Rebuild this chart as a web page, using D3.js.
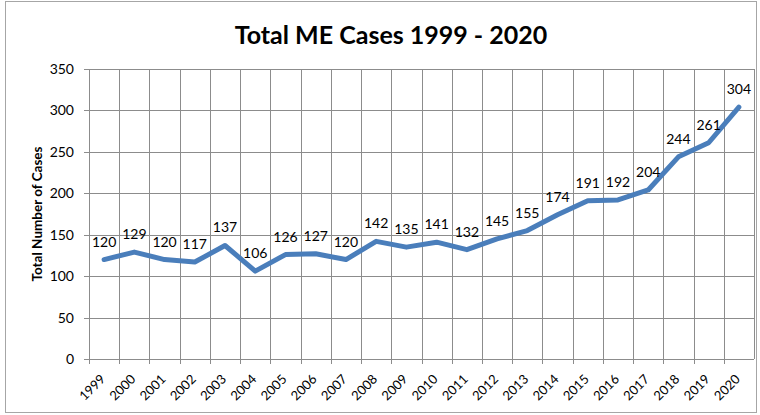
<!DOCTYPE html>
<html>
<head>
<meta charset="utf-8">
<script src="https://cdn.jsdelivr.net/npm/d3@7"></script>
<style>
  body { margin: 0; background: #fff; }
  text { font-family: Lato, "Open Sans", sans-serif; fill: #000; }
</style>
</head>
<body>
<div id="chart"></div>
<script>
// data
var years = ["1999","2000","2001","2002","2003","2004","2005","2006","2007","2008","2009",
  "2010","2011","2012","2013","2014","2015","2016","2017","2018","2019","2020"];
var cases = [120,129,120,117,137,106,126,127,120,142,135,141,132,145,155,174,191,192,204,244,261,304];
var yTicks = [0,50,100,150,200,250,300,350];

var width = 760, height = 415;
var margin = {left: 89, right: 6, top: 69, bottom: 56};

var svg = d3.select("#chart").append("svg")
  .attr("width", width)
  .attr("height", height);

// chart border
svg.append("rect")
  .attr("x", 5.5).attr("y", 1.5)
  .attr("width", 751).attr("height", 411)
  .attr("fill", "none")
  .attr("stroke", "#a6a6a6");

var x = d3.scaleBand()
  .domain(years)
  .range([margin.left, width - margin.right]);

var y = d3.scaleLinear()
  .domain([0, 350])
  .range([height - margin.bottom, margin.top]);

// horizontal gridlines
svg.append("g")
  .selectAll("line")
  .data(yTicks)
  .enter().append("line")
    .attr("x1", margin.left - 5)
    .attr("x2", width - margin.right)
    .attr("y1", d => Math.round(y(d)) + 0.5)
    .attr("y2", d => Math.round(y(d)) + 0.5)
    .attr("stroke", "#8c8c8c");

// vertical gridlines at category boundaries
var bounds = years.map(d => x(d)).concat([x.range()[1]]);
svg.append("g")
  .selectAll("line")
  .data(bounds)
  .enter().append("line")
    .attr("x1", d => Math.round(d) + 0.5)
    .attr("x2", d => Math.round(d) + 0.5)
    .attr("y1", margin.top)
    .attr("y2", (d, i) => i == bounds.length - 1 ? y(0) : y(0) + 5)
    .attr("stroke", "#8c8c8c");

// y tick labels
svg.append("g")
  .selectAll("text")
  .data(yTicks)
  .enter().append("text")
    .attr("x", 74)
    .attr("y", d => y(d) + 5)
    .attr("text-anchor", "end")
    .style("font-size", "14px")
    .text(d => d);

// x tick labels
svg.append("g")
  .selectAll("text")
  .data(years)
  .enter().append("text")
    .attr("transform", d => "translate(" + (x(d) + x.bandwidth() / 2 + 2) + "," + (y(0) + 21) + ") rotate(-45)")
    .attr("text-anchor", "end")
    .style("font-size", "13px")
    .text(d => d);

// line
var line = d3.line()
  .x((d, i) => x(years[i]) + x.bandwidth() / 2)
  .y(d => y(d));

svg.append("path")
  .datum(cases)
  .attr("d", line)
  .attr("fill", "none")
  .attr("stroke", "#4a7ebb")
  .attr("stroke-width", 5)
  .attr("stroke-linejoin", "round")
  .attr("stroke-linecap", "round");

// data labels
svg.append("g")
  .selectAll("text")
  .data(cases)
  .enter().append("text")
    .attr("x", (d, i) => x(years[i]) + x.bandwidth() / 2)
    .attr("y", d => y(d) - 13)
    .attr("text-anchor", "middle")
    .style("font-size", "14px")
    .text(d => d);

// title
svg.append("text")
  .attr("x", 391)
  .attr("y", 44)
  .attr("text-anchor", "middle")
  .style("font-size", "25px")
  .style("font-weight", "bold")
  .text("Total ME Cases 1999 - 2020");

// y axis title
svg.append("text")
  .attr("transform", "translate(42," + 214 + ") rotate(-90)")
  .attr("text-anchor", "middle")
  .style("font-size", "13.5px")
  .style("font-weight", "bold")
  .text("Total Number of Cases");
</script>
</body>
</html>
